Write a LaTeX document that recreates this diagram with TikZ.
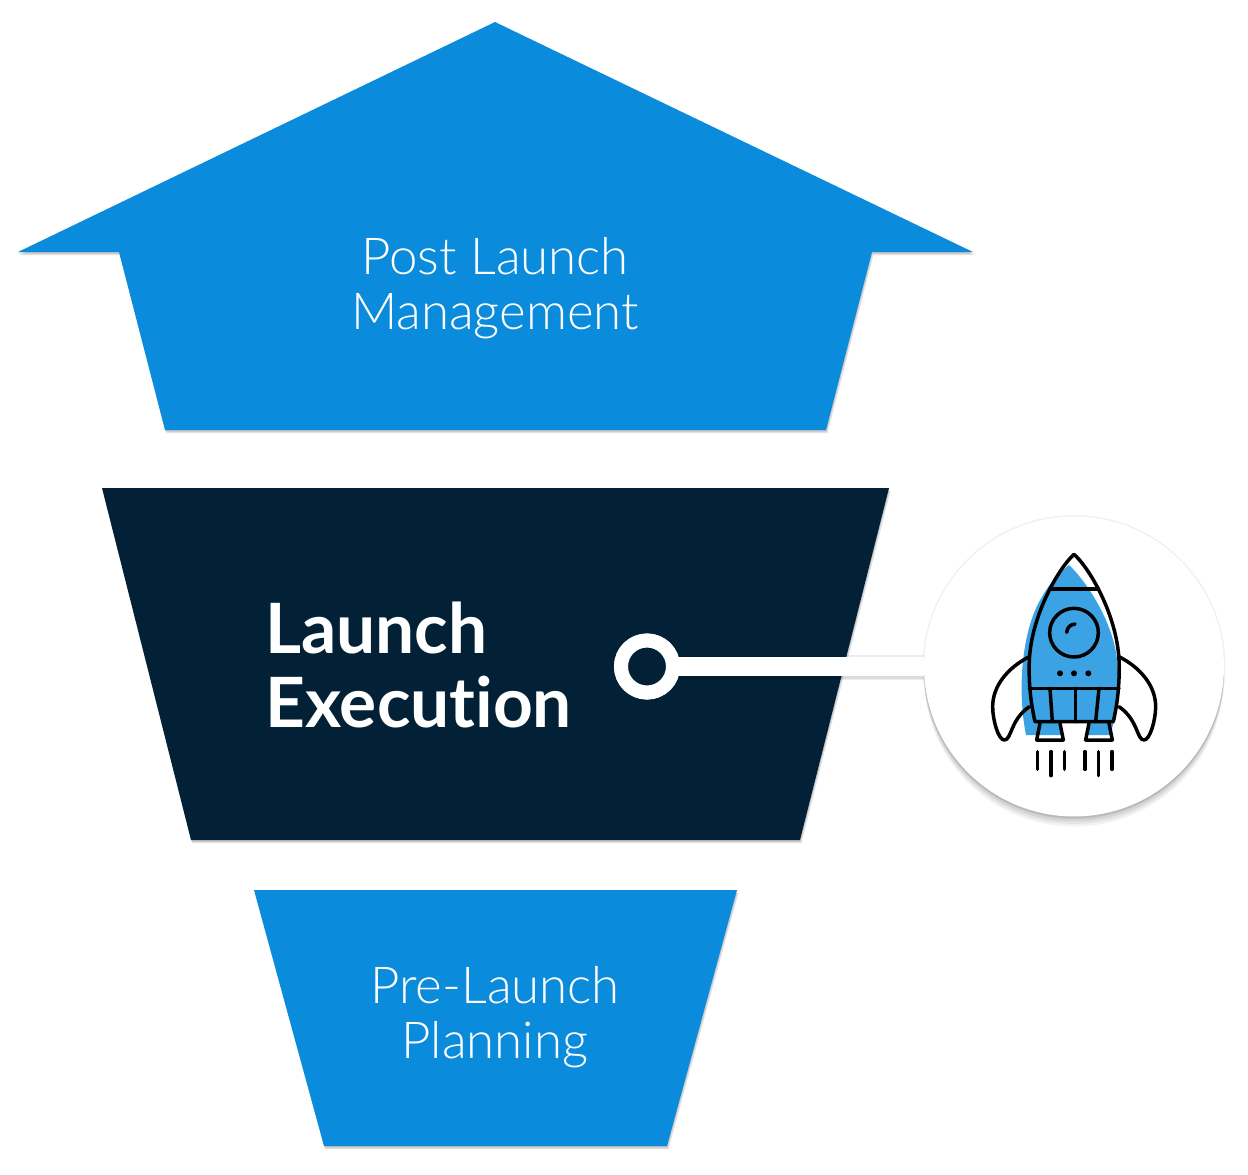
\documentclass[tikz,border=0pt]{standalone}
\usepackage{fontspec}
\usetikzlibrary{shadows}
\setmainfont{Lato}[Ligatures=NoCommon]
\newfontfamily\lightfont{Lato Light}
\definecolor{colblue}{HTML}{0A8BDC}
\definecolor{coldark}{HTML}{032136}
\definecolor{colrocket}{HTML}{3BA3E3}
\tikzset{
  softshadow/.style={
  general shadow={fill=black,opacity=0.12,shadow xshift=0.03cm,shadow yshift=-0.06cm},
  general shadow={fill=black,opacity=0.12,shadow xshift=0.01cm,shadow yshift=-0.03cm}},
  stage/.style={softshadow},
  stagetext/.style={text=white,align=center,font=\lightfont\fontsize{29}{31.5}\selectfont},
  maintext/.style={text=white,align=left,inner sep=0pt,font=\bfseries\fontsize{39.5}{42.5}\selectfont},
  ringmark/.style={circle,draw=white,line width=0.28cm,fill=coldark,minimum size=1.04cm,outer sep=0pt},
  badge/.style={circle,fill=white,minimum size=6cm,outer sep=0pt,
  general shadow={fill=black,opacity=0.05,shadow yshift=-0.2cm},
  general shadow={fill=black,opacity=0.06,shadow yshift=-0.15cm},
  general shadow={fill=black,opacity=0.07,shadow yshift=-0.10cm},
  general shadow={fill=black,opacity=0.08,shadow yshift=-0.05cm},
  general shadow={fill=black,opacity=0.06,shadow scale=1.01}},
  connector/.style={white,line width=0.38cm},
  connshadow/.style={black,line width=0.38cm,opacity=0.07},
  icon/.style={black,line width=0.07cm,line join=round,line cap=round}
}
\begin{document}
\begin{tikzpicture}[x=0.02cm,y=-0.02cm]
  \useasboundingbox (0,0) rectangle (1248,1174);

  \path[stage,fill=colblue] (495,22) -- (973,252) -- (872,252) -- (826,430) -- (165,430) -- (119,252) -- (18,252) -- cycle;
  \path[stage,fill=coldark] (102,488) -- (889,488) -- (800,840) -- (191,840) -- cycle;
  \path[stage,fill=colblue] (254,890) -- (737,890) -- (667,1146) -- (324,1146) -- cycle;

  \node[stagetext] (post) at (495,288.5) {Post Launch\\Management};
  \node[maintext,anchor=west] (exec) at (265,665) {Launch\\Execution};
  \node[stagetext] (pre) at (495,1017.5) {Pre-Launch\\Planning};

  \node[badge] (circ) at (1074,666.5) {};
  \node[ringmark] (ring) at (647,666.5) {};
  \foreach \dy in {-0.08,-0.05,0.05}
  \draw[connshadow,transform canvas={yshift=\dy cm}] (ring.east) -- (circ.west);
  \draw[connector] (ring.east) -- (circ.west);
  \node[ringmark] at (ring) {};

  % rocket, in units of the 3x crop
  \begin{scope}[shift={(920,510)},x=0.00667cm,y=-0.00667cm]
  \fill[colrocket] (447,165) .. controls (500,215) and (575,330) .. (590,440) -- (597,530) -- (582,635) -- (570,675)
    -- (505,675) -- (507,637) -- (420,637) -- (425,675) -- (318,675)
    .. controls (295,560) and (300,400) .. (350,290) .. controls (370,250) and (400,200) .. (447,165) -- cycle;
  \draw[icon] (462,133) .. controls (420,170) and (335,310) .. (328,450) .. controls (325,530) and (335,590) .. (345,635)
    -- (580,635) .. controls (590,590) and (600,530) .. (597,450) .. controls (590,310) and (505,170) .. (462,133) -- cycle;
  \draw[icon] (390,237) -- (535,237);
  \draw[icon] (328,535) -- (597,535);
  \draw[icon] (462,368) circle (73);
  \draw[icon] (440,367) .. controls (442,352) and (450,344) .. (465,342);
  \foreach \x in {420,462,505}
  \fill[black] (\x,490) circle (9);
  \draw[icon] (390,535) -- (397,635);
  \draw[icon] (467,535) -- (467,635);
  \draw[icon] (537,535) -- (527,635);
  \draw[icon] (360,640) -- (350,690) -- (430,690) -- (420,640);
  \draw[icon] (507,640) -- (497,690) -- (577,690) -- (567,640);
  \draw[icon] (328,440) .. controls (260,475) and (218,530) .. (218,590) .. controls (218,630) and (235,690) .. (253,690)
    .. controls (275,690) and (270,630) .. (328,590);
  \draw[icon] (597,440) .. controls (665,475) and (707,530) .. (707,590) .. controls (707,630) and (690,690) .. (672,690)
    .. controls (650,690) and (655,630) .. (597,590);
  \foreach \x/\y in {352/778,393/797,433/778,495/778,536/797,576/778}
  \draw[icon] (\x,725) -- (\x,\y);
  \end{scope}
\end{tikzpicture}
\end{document}
